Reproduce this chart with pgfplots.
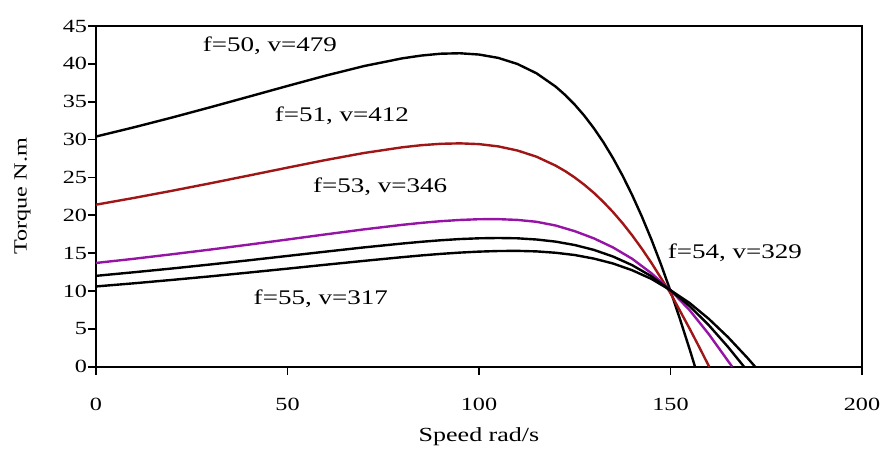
\documentclass[border=0pt]{standalone}
\usepackage{fontspec}
\setmainfont{Liberation Serif}[FakeStretch=1.3]
\usepackage{pgfplots}
\pgfplotsset{compat=1.18}

\definecolor{curvered}{RGB}{160,22,22}
\definecolor{curvepurple}{RGB}{150,20,165}

\begin{document}
\begin{tikzpicture}
\begin{axis}[
  at={(0,0)}, anchor=south west,
  scale only axis,
  width=383pt, height=170.35pt,
  xmin=0, xmax=200, ymin=0, ymax=45,
  xtick={0,50,...,200}, ytick={0,5,...,45},
  tick align=outside,
  xtick pos=bottom, ytick pos=left,
  major tick length=4pt,
  tick style={black, line width=0.9pt},
  axis line style={line width=1.15pt},
  ticklabel style={font=\fontsize{9.3}{11}\selectfont},
  /pgf/number format/assume math mode=true,
  xticklabel style={yshift=-8pt},
  yticklabel style={xshift=3pt},
  xlabel={Speed rad/s},
  ylabel={Torque N.m},
  xlabel style={font=\fontsize{10}{12}\selectfont,
    at={(axis description cs:0.5,0)}, anchor=center, yshift=-35pt},
  ylabel style={font=\fontsize{9.3}{11}\selectfont,
    at={(axis description cs:0,0.5)}, anchor=center, yshift=36.8pt},
  every axis plot/.append style={line width=1.2pt, line join=round},
  clip=true,
]
% f=50, v=479
\addplot[black] coordinates {
 (0,30.40) (10,31.63) (20,32.93) (30,34.29) (40,35.68) (50,37.08)
 (60,38.45) (70,39.71) (80,40.73) (85,41.10) (90,41.34) (95,41.40)
 (100,41.23) (105,40.79) (110,39.99) (115,38.76) (120,37.00)
 (122.5,35.89) (125,34.61) (127.5,33.15) (130,31.49) (132.5,29.63)
 (135,27.54) (137.5,25.22) (140,22.66) (142.5,19.86) (145,16.82)
 (147.5,13.53) (150,10.00) (152.5,6.25) (155,2.30) (156.4,0)};
% f=51, v=412
\addplot[curvered] coordinates {
 (0,21.40) (10,22.30) (20,23.25) (30,24.24) (40,25.26) (50,26.29)
 (60,27.30) (70,28.23) (80,28.98) (85,29.26) (90,29.44) (95,29.50)
 (100,29.40) (105,29.10) (110,28.56) (115,27.74) (120,26.56)
 (122.5,25.83) (125,24.99) (127.5,24.03) (130,22.96) (132.5,21.75)
 (135,20.42) (137.5,18.95) (140,17.34) (142.5,15.60) (145,13.73)
 (147.5,11.72) (150,9.70) (152.5,7.36) (155,5.02) (157.5,2.59) (160.1,0)};
% f=53, v=346
\addplot[curvepurple] coordinates {
 (0,13.70) (10,14.26) (20,14.86) (30,15.48) (40,16.13) (50,16.80)
 (60,17.48) (70,18.14) (80,18.74) (85,19.00) (90,19.22) (95,19.38)
 (100,19.48) (105,19.49) (110,19.39) (115,19.14) (120,18.65)
 (125,17.90) (130,16.95) (135,15.75) (140,14.25) (145,12.35)
 (150,10.10) (155,7.46) (160,4.30) (166.1,0)};
% f=54, v=329
\addplot[black] coordinates {
 (0,12.00) (10,12.48) (20,12.98) (30,13.51) (40,14.06) (50,14.63)
 (60,15.20) (70,15.76) (80,16.27) (85,16.50) (90,16.70) (95,16.86)
 (100,16.96) (105,17.00) (110,16.96) (115,16.80) (120,16.52)
 (125,16.07) (130,15.43) (135,14.55) (140,13.41) (145,11.95)
 (150,10.10) (155,8.00) (160,5.48) (165,2.62) (169.2,0)};
% f=55, v=317
\addplot[black] coordinates {
 (0,10.60) (10,11.02) (20,11.47) (30,11.94) (40,12.44) (50,12.95)
 (60,13.47) (70,13.98) (80,14.47) (85,14.70) (90,14.90) (95,15.07)
 (100,15.20) (105,15.28) (110,15.30) (115,15.23) (120,15.05)
 (125,14.75) (130,14.28) (135,13.63) (140,12.74) (145,11.60)
 (150,10.10) (155,8.41) (160,6.32) (165,3.91) (170,1.21) (172.1,0)};

\begin{scope}[every node/.style={font=\fontsize{10.4}{12}\selectfont}]
\node at (axis cs:45.4,42.4) {f=50, v=479};
\node at (axis cs:64.2,33.2) {f=51, v=412};
\node at (axis cs:74.2,23.8) {f=53, v=346};
\node at (axis cs:166.8,15.0) {f=54, v=329};
\node at (axis cs:58.7,9.0) {f=55, v=317};
\end{scope}
\end{axis}
\pgfresetboundingbox
\path[use as bounding box] (-48pt,-41.65pt) rectangle (394pt,183.35pt);
\end{tikzpicture}
\end{document}
